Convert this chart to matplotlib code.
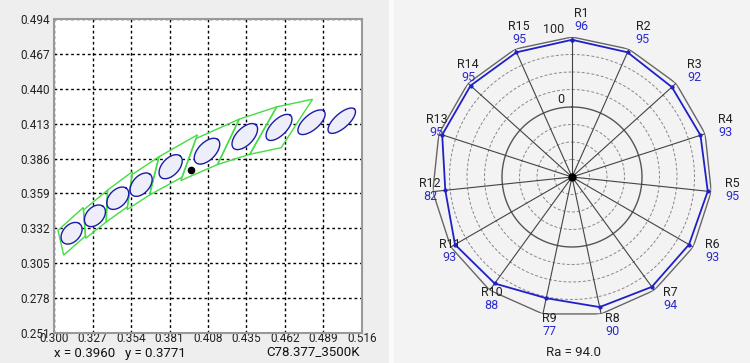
import numpy as np
import matplotlib
matplotlib.use('Agg')
import matplotlib.pyplot as plt
from matplotlib.patches import Polygon, Rectangle

plt.rcParams['font.family'] = ['Roboto', 'DejaVu Sans']

# ---------------- chromaticity chart data ----------------
x_ticks = [0.300, 0.327, 0.354, 0.381, 0.408, 0.435, 0.462, 0.489, 0.516]
y_ticks = [0.251, 0.278, 0.305, 0.332, 0.359, 0.386, 0.413, 0.440, 0.467, 0.494]

# ANSI C78.377 quadrangles (corner x / corner y)
quad_names = ['6500K', '5700K', '5000K', '4500K', '4000K', '3500K', '3000K', '2700K']
quad_x = [
    [0.3205, 0.3028, 0.3068, 0.3221],
    [0.3376, 0.3207, 0.3222, 0.3366],
    [0.3551, 0.3376, 0.3366, 0.3515],
    [0.3736, 0.3548, 0.3512, 0.3670],
    [0.4006, 0.3736, 0.3670, 0.3898],
    [0.4299, 0.3996, 0.3889, 0.4147],
    [0.4562, 0.4299, 0.4147, 0.4373],
    [0.4813, 0.4562, 0.4373, 0.4593],
]
quad_y = [
    [0.3481, 0.3304, 0.3113, 0.3261],
    [0.3616, 0.3462, 0.3243, 0.3369],
    [0.3760, 0.3616, 0.3369, 0.3487],
    [0.3874, 0.3736, 0.3465, 0.3578],
    [0.4044, 0.3874, 0.3578, 0.3716],
    [0.4165, 0.4015, 0.3690, 0.3814],
    [0.4260, 0.4165, 0.3814, 0.3893],
    [0.4319, 0.4260, 0.3893, 0.3944],
]

# ellipses (centres, semi-axes, tilt in degrees)
ell_names = ['6500K', '5700K', '5000K', '4500K', '4000K', '3500K', '3000K', '2700K', '2500K', '2200K']
ell_cx = [0.3123, 0.3287, 0.3447, 0.3611, 0.3818, 0.4073, 0.4338, 0.4578, 0.4806, 0.5018]
ell_cy = [0.3282, 0.3417, 0.3553, 0.3658, 0.3797, 0.3917, 0.4030, 0.4101, 0.4141, 0.4153]
ell_a = [0.0093, 0.0093, 0.0098, 0.0102, 0.0107, 0.0118, 0.0120, 0.0123, 0.0123, 0.0127]
ell_b = [0.0062, 0.0062, 0.0062, 0.0062, 0.0062, 0.0064, 0.0062, 0.0058, 0.0056, 0.0053]
ell_theta = [54.7, 54.7, 52.8, 54.7, 52.8, 50.8, 50.8, 49.8, 44.9, 45.8]

point_x = 0.3960
point_y = 0.3771
chart_name = 'C78.377_3500K'

# ---------------- radar data ----------------
r_names = ['R1', 'R2', 'R3', 'R4', 'R5', 'R6', 'R7', 'R8', 'R9', 'R10',
           'R11', 'R12', 'R13', 'R14', 'R15']
r_values = [96, 95, 92, 93, 95, 93, 94, 90, 77, 88, 93, 82, 95, 95, 95]
ra_value = 94.0
ring_dashed = [-75, -50, -25, 25, 50, 75]

W, H = 750, 363
fig = plt.figure(figsize=(W / 100, H / 100), dpi=100)
fig.patch.set_facecolor('#eeeeee')
fig.add_artist(Rectangle((389 / W, 0), 5 / W, 1, transform=fig.transFigure,
                         color='#fafafa', zorder=-10, lw=0))
fig.add_artist(Rectangle((394 / W, 0), 356 / W, 1, transform=fig.transFigure,
                         color='#f3f3f3', zorder=-11, lw=0))

# ---------------- left chart ----------------
ax = fig.add_axes([54 / W, 30 / H, 308 / W, 314 / H])
ax.set_facecolor('white')
ax.set_xlim(x_ticks[0], x_ticks[-1])
ax.set_ylim(y_ticks[0], y_ticks[-1])
ax.set_xticks(x_ticks)
ax.set_yticks(y_ticks)
ax.set_xticklabels(['%.3f' % v for v in x_ticks])
ax.set_yticklabels(['%.3f' % v for v in y_ticks])
ax.tick_params(length=0, labelsize=8.5, labelcolor='#222222')
ax.tick_params(axis='x', pad=-1)
ax.tick_params(axis='y', pad=3)
ax.grid(True, color='black', linestyle=(0, (2, 2)), lw=1)
ax.set_axisbelow(True)
for s in ax.spines.values():
    s.set_color('#999999')
    s.set_linewidth(1.5)

for qx, qy in zip(quad_x, quad_y):
    ax.add_patch(Polygon(list(zip(qx, qy)), closed=True, fill=False,
                         edgecolor='#44dd44', lw=1.0, zorder=3))

t = np.linspace(0, 2 * np.pi, 200)
for cx, cy, a, b, th in zip(ell_cx, ell_cy, ell_a, ell_b, ell_theta):
    r = np.deg2rad(th)
    ex = cx + a * np.cos(t) * np.cos(r) - b * np.sin(t) * np.sin(r)
    ey = cy + a * np.cos(t) * np.sin(r) + b * np.sin(t) * np.cos(r)
    ax.fill(ex, ey, color='#eeeefa', zorder=2, lw=0)
    ax.plot(ex, ey, color='#1c1ca8', lw=1.0, zorder=4)

ax.plot([point_x], [point_y], 'o', color='black', ms=4.5, zorder=5)

fig.text(54 / W, 9 / H, 'x = %.4f   y = %.4f' % (point_x, point_y),
         ha='left', va='center', fontsize=9.5, color='#111111')
fig.text(360 / W, 11 / H, chart_name, ha='right', va='center',
         fontsize=9.5, color='#111111')

# ---------------- radar chart ----------------
rax = fig.add_axes([432 / W, 46 / H, 280 / W, 280 / H], projection='polar')
rax.set_theta_zero_location('N')
rax.set_theta_direction(-1)
rax.set_ylim(-100, 100)
rax.set_axis_off()

n = len(r_names)
angles = np.deg2rad(np.arange(n) * 360.0 / n)
full = np.linspace(0, 2 * np.pi, 361)
for rv in ring_dashed:
    rax.plot(full, np.full_like(full, rv), color='#888888',
             ls=(0, (3, 2)), lw=0.7)
rax.plot(full, np.zeros_like(full), color='#555555', lw=1.0)
closed_ang = np.append(angles, angles[0])
rax.plot(closed_ang, np.full(n + 1, 100), color='#666666', lw=1.0)
for a in angles:
    rax.plot([a, a], [-100, 100], color='#444444', lw=0.8)
rax.plot(closed_ang, np.append(r_values, r_values[0]), color='#2020c8',
         lw=1.3, marker='o', ms=2)
rax.plot([0], [-100], 'o', color='black', ms=5)

for a, name, v in zip(angles, r_names, r_values):
    dx = 9 + 12 * np.sin(a)
    dy = 3 + 14 * np.cos(a)
    rax.annotate(name, xy=(a, 100), xytext=(dx, dy + 6.5),
                 textcoords='offset pixels', ha='center', va='center',
                 fontsize=9, color='#222222', annotation_clip=False)
    rax.annotate('%d' % v, xy=(a, 100), xytext=(dx, dy - 6.5),
                 textcoords='offset pixels', ha='center', va='center',
                 fontsize=9, color='#2a2ad0', annotation_clip=False)

rax.annotate('100', xy=(0, 100), xytext=(-8, 1), textcoords='offset pixels',
             ha='right', va='bottom', fontsize=9, color='#222222',
             annotation_clip=False)
rax.annotate('0', xy=(0, 0), xytext=(-8, 1), textcoords='offset pixels',
             ha='right', va='bottom', fontsize=9, color='#222222',
             annotation_clip=False)

fig.text(573 / W, 10 / H, 'Ra = %.1f' % ra_value, ha='center', va='center',
         fontsize=9.5, color='#222222')

fig.savefig('out.png', dpi=100, facecolor=fig.get_facecolor())
